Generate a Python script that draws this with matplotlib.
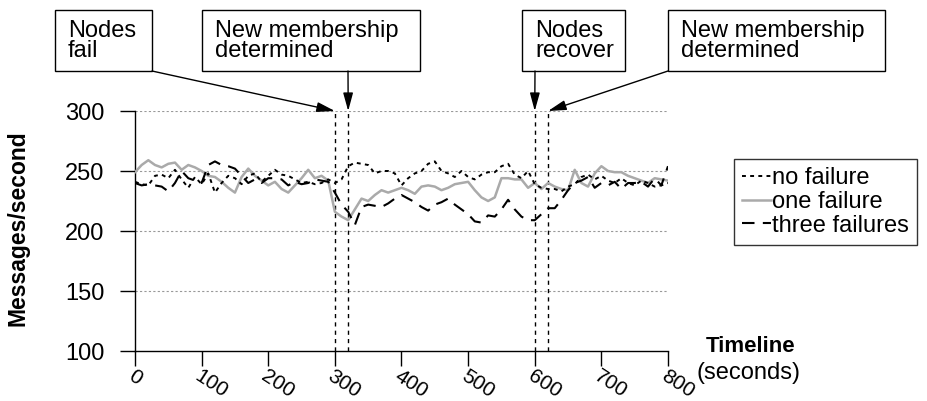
import matplotlib
matplotlib.use("Agg")
import matplotlib.pyplot as plt
from matplotlib.patches import Rectangle

plt.rcParams['font.family'] = ['Liberation Sans', 'DejaVu Sans']

t = list(range(0, 801, 10))

no_failure = [241, 239, 238, 246, 247, 244, 251, 243, 236, 245,
              239, 248, 232, 240, 246, 244, 239, 246, 248, 241,
              246, 251, 247, 246, 243, 240, 241, 239, 240, 243,
              240, 243, 254, 257, 256, 255, 248, 250, 250, 248,
              238, 244, 248, 250, 256, 258, 250, 248, 245, 250,
              245, 243, 247, 249, 249, 254, 256, 247, 244, 250,
              239, 236, 235, 235, 233, 237, 239, 245, 247, 243,
              246, 242, 240, 244, 240, 238, 242, 240, 237, 238, 240]

one_failure = [249, 255, 259, 255, 253, 256, 257, 251, 255, 253,
               250, 246, 245, 241, 236, 232, 245, 252, 246, 242,
               238, 241, 235, 232, 238, 244, 251, 244, 246, 242,
               216, 212, 209, 218, 227, 225, 230, 234, 232, 234,
               236, 234, 231, 237, 238, 237, 234, 236, 239, 240,
               241, 234, 228, 225, 228, 244, 244, 243, 243, 236,
               240, 235, 240, 237, 235, 234, 251, 240, 237, 248,
               254, 250, 249, 249, 246, 244, 242, 240, 244, 243, 242]

three_failures = [240, 238, 239, 238, 237, 233, 240, 250, 244, 242,
                  240, 255, 258, 255, 254, 252, 246, 240, 243, 240,
                  244, 244, 243, 238, 241, 239, 240, 243, 242, 241,
                  232, 222, 216, 205, 220, 222, 221, 220, 223, 227,
                  230, 227, 224, 220, 217, 222, 224, 227, 222, 218,
                  214, 208, 207, 213, 212, 218, 226, 218, 212, 209,
                  209, 214, 219, 219, 226, 234, 240, 242, 245, 236,
                  240, 238, 241, 235, 240, 240, 241, 237, 244, 238, 254]

event_times = [300, 320, 600, 620]
yticks = [100, 150, 200, 250, 300]
xticks = [0, 100, 200, 300, 400, 500, 600, 700, 800]
series_labels = ['no failure', 'one failure', 'three failures']

W, H = 928, 401
fig = plt.figure(figsize=(W / 100, H / 100), dpi=100)
ax = fig.add_axes([135 / W, (H - 351) / H, (668 - 135) / W, (351 - 111) / H])

for y in [150, 200, 250, 300]:
    ax.axhline(y, color='#999999', lw=0.8, ls=(0, (2, 2)), zorder=1)

for ev in event_times:
    ax.plot([ev, ev], [100, 300], color='black', lw=1.0, ls=(0, (3, 3)), zorder=2, clip_on=False)

l1, = ax.plot(t, no_failure, color='black', lw=1.4, ls=(0, (2, 2.2)), zorder=4)
l2, = ax.plot(t, one_failure, color='#aaaaaa', lw=1.8, ls='-', zorder=3)
l3, = ax.plot(t, three_failures, color='black', lw=1.5, ls=(0, (6, 4)), zorder=5)

ax.set_xlim(0, 800)
ax.set_ylim(100, 300)
ax.set_xticks(xticks)
ax.set_yticks(yticks)
ax.set_xticklabels([str(v) for v in xticks], rotation=-33, ha='left', va='top',
                   rotation_mode='anchor', fontsize=15)
ax.set_yticklabels([str(v) for v in yticks], fontsize=17)
ax.tick_params(axis='both', direction='out', length=11, width=1, color='black')
ax.tick_params(axis='x', pad=0)
ax.tick_params(axis='y', pad=11)
for s in ['top', 'right']:
    ax.spines[s].set_visible(False)
ax.spines['left'].set_linewidth(1)
ax.spines['bottom'].set_linewidth(1)
ax.patch.set_visible(False)

fig.text(18 / W, 1 - 228 / H, 'Messages/second', rotation=90, ha='center', va='center',
         fontsize=16.5, fontweight='bold')
fig.text(751 / W, 1 - 347 / H, 'Timeline', ha='center', va='center', fontsize=16, fontweight='bold')
fig.text(749 / W, 1 - 373 / H, '(seconds)', ha='center', va='center', fontsize=17)

# annotation boxes (pixel coordinates from top-left)
boxes = [
    (55, 152, 'Nodes\nfail', (152, 71), 300),
    (202, 420, 'New membership\ndetermined', (348, 71), 320),
    (522, 625, 'Nodes\nrecover', (535, 71), 600),
    (668, 885, 'New membership\ndetermined', (668, 71), 620),
]
for x0, x1, txt, start, tev in boxes:
    fig.patches.append(Rectangle((x0 / W, 1 - 71 / H), (x1 - x0) / W, 61 / H,
                                 transform=fig.transFigure, fill=False,
                                 edgecolor='black', lw=1))
    fig.text((x0 + 13) / W, 1 - 41 / H, txt, ha='left', va='center', fontsize=17,
             linespacing=0.9)
    ax.annotate('', xy=(tev, 300), xycoords='data',
                xytext=(start[0] / W, 1 - start[1] / H), textcoords='figure fraction',
                arrowprops=dict(arrowstyle='-|>,head_length=1.1,head_width=0.3',
                                color='black', lw=1, shrinkA=0, shrinkB=0),
                annotation_clip=False)

leg = fig.legend([l1, l2, l3], series_labels, loc='upper left',
                 bbox_to_anchor=(734 / W, 1 - 159 / H), fontsize=17,
                 frameon=True, fancybox=False, edgecolor='black',
                 handlelength=1.2, handletextpad=0.05, labelspacing=0.07,
                 borderpad=0.35, borderaxespad=0)
leg.get_frame().set_linewidth(1)

fig.savefig('out.png', dpi=100)
